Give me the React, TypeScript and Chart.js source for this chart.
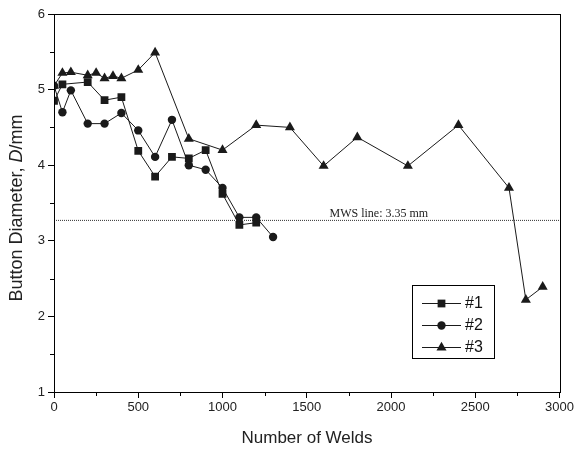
import React, { useEffect, useRef } from 'react';
import { Chart, registerables } from 'chart.js';

Chart.register(...registerables);

const welds1 = [0, 50, 200, 300, 400, 500, 600, 700, 800, 900, 1000, 1100, 1200];
const diam1 = [4.85, 5.07, 5.1, 4.86, 4.9, 4.19, 3.85, 4.11, 4.09, 4.2, 3.62, 3.21, 3.24];
const welds2 = [0, 50, 100, 200, 300, 400, 500, 600, 700, 800, 900, 1000, 1100, 1200, 1300];
const diam2 = [5.05, 4.7, 4.99, 4.55, 4.55, 4.69, 4.46, 4.11, 4.6, 4.0, 3.94, 3.7, 3.31, 3.31, 3.05];
const welds3 = [0, 50, 100, 200, 250, 300, 350, 400, 500, 600, 800, 1000, 1200, 1400, 1600, 1800, 2100, 2400, 2700, 2800, 2900];
const diam3 = [5.05, 5.22, 5.23, 5.19, 5.22, 5.15, 5.18, 5.15, 5.26, 5.49, 4.35, 4.2, 4.53, 4.5, 3.99, 4.37, 3.99, 4.53, 3.7, 2.22, 2.39];
const seriesNames = ['#1', '#2', '#3'];
const mwsX = [0, 3000];
const mwsY = [3.27, 3.27];
const mwsLabel = 'MWS line: 3.35 mm';
const xTitle = 'Number of Welds';
const yTitleParts = [
  { t: 'Button Diameter, ', italic: false },
  { t: 'D', italic: true },
  { t: '/mm', italic: false },
];

const SANS = '"Liberation Sans", Arial, sans-serif';
const INK = '#1a1a1a';

const toXY = (xs: number[], ys: number[]) => xs.map((x, i) => ({ x, y: ys[i] }));

function marker(ctx: CanvasRenderingContext2D, style: string, r: number, x: number, y: number) {
  ctx.beginPath();
  if (style === 'rect') {
    const s = Math.SQRT1_2 * r;
    ctx.rect(x - s, y - s, 2 * s, 2 * s);
  } else if (style === 'circle') {
    ctx.arc(x, y, r, 0, Math.PI * 2);
  } else {
    const w = r * Math.sqrt(3) / 2;
    ctx.moveTo(x, y - r);
    ctx.lineTo(x + w, y + r / 2);
    ctx.lineTo(x - w, y + r / 2);
    ctx.closePath();
  }
  ctx.fill();
}

const decorPlugin = {
  id: 'decor',
  afterDraw(chart: any) {
    const { ctx, chartArea: a, scales } = chart;
    const xs = scales.x;
    const ys = scales.y;
    ctx.save();
    // frame
    ctx.strokeStyle = '#000';
    ctx.lineWidth = 1;
    ctx.strokeRect(Math.round(a.left) + 0.5, Math.round(a.top) + 0.5, Math.round(a.right - a.left), Math.round(a.bottom - a.top));
    // minor ticks
    ctx.beginPath();
    for (let v = 250; v < 3000; v += 500) {
      const px = Math.round(xs.getPixelForValue(v)) + 0.5;
      ctx.moveTo(px, a.bottom);
      ctx.lineTo(px, a.bottom + 4);
    }
    for (let v = 1.5; v < 6; v += 1) {
      const py = Math.round(ys.getPixelForValue(v)) + 0.5;
      ctx.moveTo(a.left, py);
      ctx.lineTo(a.left - 4, py);
    }
    ctx.stroke();
    // MWS label
    ctx.fillStyle = '#222';
    ctx.font = '12px "Liberation Serif", "Times New Roman", serif';
    ctx.textBaseline = 'alphabetic';
    ctx.textAlign = 'left';
    ctx.fillText(mwsLabel, xs.getPixelForValue(1635), ys.getPixelForValue(3.27) - 3);
    // x title
    ctx.font = '17px ' + SANS;
    ctx.fillStyle = '#222';
    ctx.textAlign = 'center';
    ctx.textBaseline = 'middle';
    ctx.fillText(xTitle, 307, 438);
    // y title
    ctx.save();
    ctx.translate(17, 208);
    ctx.rotate(-Math.PI / 2);
    ctx.textAlign = 'left';
    const fonts = yTitleParts.map((p) => (p.italic ? 'italic ' : '') + '18px ' + SANS);
    let total = 0;
    yTitleParts.forEach((p, i) => {
      ctx.font = fonts[i];
      total += ctx.measureText(p.t).width;
    });
    let cx = -total / 2;
    yTitleParts.forEach((p, i) => {
      ctx.font = fonts[i];
      ctx.fillText(p.t, cx, 0);
      cx += ctx.measureText(p.t).width;
    });
    ctx.restore();
    // legend
    const lx = 412, ly = 285, lw = 82, lh = 73;
    ctx.fillStyle = '#fff';
    ctx.fillRect(lx, ly, lw, lh);
    ctx.strokeStyle = '#000';
    ctx.strokeRect(lx + 0.5, ly + 0.5, lw, lh);
    const dsets = chart.data.datasets.slice(0, 3);
    dsets.forEach((ds: any, i: number) => {
      const y = 303 + i * 22;
      ctx.strokeStyle = INK;
      ctx.lineWidth = 1;
      ctx.beginPath();
      ctx.moveTo(422, y + 0.5);
      ctx.lineTo(461, y + 0.5);
      ctx.stroke();
      ctx.fillStyle = INK;
      marker(ctx, ds.pointStyle, ds.pointRadius, 441.5, y + 0.5);
      ctx.fillStyle = '#111';
      ctx.font = '16px ' + SANS;
      ctx.textAlign = 'left';
      ctx.textBaseline = 'middle';
      ctx.fillText(seriesNames[i], 465, y + 1);
    });
    ctx.restore();
  },
};

export default function App() {
  const ref = useRef<HTMLCanvasElement>(null);
  useEffect(() => {
    document.body.style.margin = '0';
    const mk = (label: string, xs: number[], ys: number[], style: string, r: number) => ({
      label,
      data: toXY(xs, ys),
      borderColor: INK,
      backgroundColor: INK,
      pointBackgroundColor: INK,
      pointBorderColor: INK,
      pointBorderWidth: 0,
      borderWidth: 1,
      pointStyle: style,
      pointRadius: r,
      tension: 0,
    });
    const chart = new Chart(ref.current!, {
      type: 'line',
      data: {
        datasets: [
          mk(seriesNames[0], welds1, diam1, 'rect', 5.5),
          mk(seriesNames[1], welds2, diam2, 'circle', 4.2),
          mk(seriesNames[2], welds3, diam3, 'triangle', 5.8),
          {
            label: 'MWS',
            data: toXY(mwsX, mwsY),
            borderColor: '#333',
            borderWidth: 1,
            borderDash: [1, 1],
            pointRadius: 0,
          } as any,
        ],
      },
      options: {
        responsive: false,
        animation: false,
        layout: { padding: { top: 14, right: 15, left: 0, bottom: 0 } },
        plugins: { legend: { display: false }, tooltip: { enabled: false } },
        scales: {
          x: {
            type: 'linear',
            min: 0,
            max: 3000,
            ticks: { stepSize: 500, color: '#222', font: { family: SANS, size: 13 }, padding: 2, maxRotation: 0, callback: (v: any) => String(v) },
            grid: { drawOnChartArea: false, tickLength: 6, color: '#000' },
            border: { color: '#000', width: 1 },
            afterFit: (s: any) => { s.height = 58; },
          },
          y: {
            type: 'linear',
            min: 1,
            max: 6,
            ticks: { stepSize: 1, color: '#222', font: { family: SANS, size: 13 }, padding: 3, callback: (v: any) => String(v) },
            grid: { drawOnChartArea: false, tickLength: 6, color: '#000' },
            border: { color: '#000', width: 1 },
            afterFit: (s: any) => { s.width = 54; },
          },
        },
      } as any,
      plugins: [decorPlugin],
    });
    return () => chart.destroy();
  }, []);
  return (
    <div style={{ width: 576, height: 450 }}>
      <canvas ref={ref} width={576} height={450} style={{ display: 'block' }} />
    </div>
  );
}
